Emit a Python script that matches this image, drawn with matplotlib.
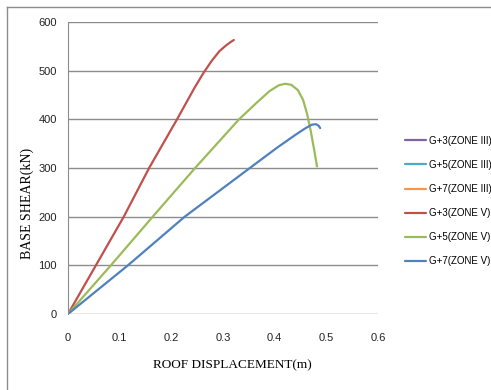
import matplotlib
matplotlib.use("Agg")
import matplotlib.pyplot as plt
from matplotlib.lines import Line2D

# pushover curves: roof displacement (m) vs base shear (kN)
labels = ["G+3(ZONE III)", "G+5(ZONE III)", "G+7(ZONE III)",
          "G+3(ZONE V)", "G+5(ZONE V)", "G+7(ZONE V)"]
colors = ["#8064A2", "#4BACC6", "#F79646", "#C0504D", "#9BBB59", "#4F81BD"]

# zone III series carry no visible data in the chart
g3_z3_x, g3_z3_y = [], []
g5_z3_x, g5_z3_y = [], []
g7_z3_x, g7_z3_y = [], []

g3_z5_x = [0, 0.054, 0.108, 0.157, 0.211, 0.245, 0.262, 0.278, 0.293, 0.306, 0.315, 0.321]
g3_z5_y = [0, 100, 200, 300, 400, 465, 495, 520, 540, 552, 559, 563]

g5_z5_x = [0, 0.083, 0.164, 0.246, 0.331, 0.365, 0.39, 0.408, 0.42, 0.432, 0.445, 0.455, 0.463, 0.47, 0.476, 0.482]
g5_z5_y = [0, 100, 200, 300, 400, 434, 458, 470, 473, 471, 460, 440, 410, 375, 340, 303]

g7_z5_x = [0, 0.116, 0.226, 0.352, 0.405, 0.44, 0.46, 0.472, 0.48, 0.485, 0.488]
g7_z5_y = [0, 100, 200, 300, 342, 368, 382, 389, 390, 387, 382]

xs = [g3_z3_x, g5_z3_x, g7_z3_x, g3_z5_x, g5_z5_x, g7_z5_x]
ys = [g3_z3_y, g5_z3_y, g7_z3_y, g3_z5_y, g5_z5_y, g7_z5_y]

W, H = 491, 390
fig = plt.figure(figsize=(W / 100, H / 100), dpi=100)
ax = fig.add_axes([68 / W, 1 - 314 / H, 310 / W, 292 / H])

tickfont = ["Liberation Sans Narrow", "Liberation Sans", "DejaVu Sans"]
seriffont = ["Liberation Serif", "DejaVu Serif"]

handles = []
for x, y, c, lab in zip(xs, ys, colors, labels):
    ln, = ax.plot(x, y, color=c, lw=1.6, label=lab, solid_capstyle="round")
    handles.append(ln)

ax.set_xlim(0, 0.6)
ax.set_ylim(0, 600)
ax.set_xticks([0, 0.1, 0.2, 0.3, 0.4, 0.5, 0.6])
ax.set_xticklabels(["0", "0.1", "0.2", "0.3", "0.4", "0.5", "0.6"])
ax.set_yticks(range(0, 601, 100))
for t in ax.get_xticklabels() + ax.get_yticklabels():
    t.set_family(tickfont)
    t.set_fontsize(8)
    t.set_color("#222222")
ax.tick_params(length=0, pad=14)
ax.tick_params(axis="y", pad=8)
ax.grid(axis="y", color="#8c8c8c", lw=1)
ax.set_axisbelow(True)
for s in ["top", "right", "bottom"]:
    ax.spines[s].set_visible(False)
ax.spines["left"].set_color("#8c8c8c")

ax.set_xlabel("ROOF DISPLACEMENT(m)", family=seriffont, fontsize=9.5, va="center")
ax.set_ylabel("BASE SHEAR(kN)", family=seriffont, fontsize=10, va="center")
ax.xaxis.set_label_coords((232 - 68) / 310, (314 - 365) / 292)
ax.yaxis.set_label_coords((27 - 68) / 310, (314 - 203) / 292)

leg = fig.legend(handles=handles, loc="upper left", bbox_to_anchor=(396 / W, 1 - 127 / H),
                 frameon=False, prop={"family": tickfont, "size": 7},
                 handlelength=2.2, handletextpad=0.3, labelspacing=1.45)

# outer chart border
fig.add_artist(Line2D([6.5 / W, 6.5 / W], [0, 1 - 7 / H], color="#8c8c8c", lw=1,
                      transform=fig.transFigure))
fig.add_artist(Line2D([6.5 / W, 1], [1 - 7 / H, 1 - 7 / H], color="#8c8c8c", lw=1,
                      transform=fig.transFigure))

fig.savefig("out.png", dpi=100)
